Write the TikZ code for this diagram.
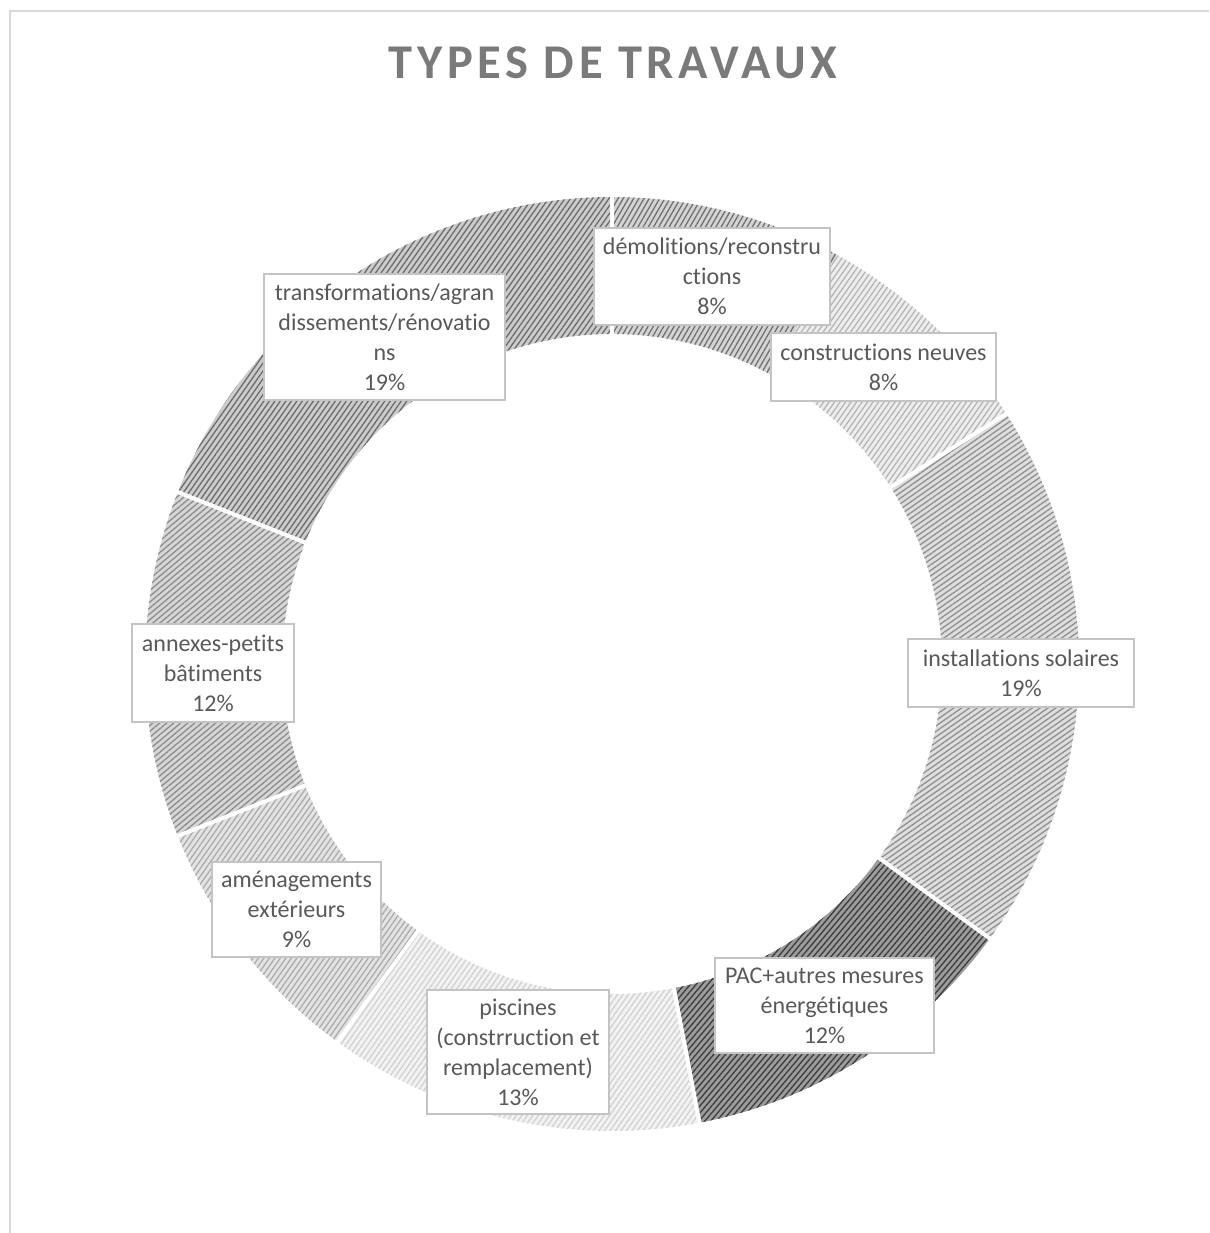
\documentclass[tikz,border=0pt]{standalone}
\usepackage{fontspec}
\setmainfont[Ligatures=NoCommon]{Carlito}
\newfontfamily\titlefont[LetterSpace=9.5,Ligatures=NoCommon]{Carlito}
\usetikzlibrary{patterns.meta}

\definecolor{txtgray}{HTML}{595959}
\definecolor{ttlgray}{HTML}{7A7A7A}
\definecolor{boxgray}{HTML}{C4C4C4}
\definecolor{framegray}{HTML}{D9D9D9}
\newcommand{\lblfont}{\fontsize{24}{30}\selectfont}

\tikzset{
  seg/.style n args={3}{preaction={fill=#1}, pattern={Lines[angle=#3,distance=4.5pt,line width=1.3pt]}, pattern color=#2},
  gap/.style={white, line width=4pt},
  lbl/.style={draw=boxgray, line width=1.3pt, fill=white, text=txtgray, font=\lblfont, align=center, inner sep=0pt},
}

\begin{document}
\begin{tikzpicture}[x=1pt,y=1pt]
  \useasboundingbox (0,0) rectangle (1209,-1233);
  \draw[framegray, line width=2pt] (1209,-11) -- (10,-11) -- (10,-1233);
  \node[text=ttlgray, font=\titlefont\bfseries\fontsize{48.5}{58}\selectfont] (title) at (613,-63) {TYPES DE TRAVAUX};

  \begin{scope}[shift={(612,-664)}]
    \path[seg={black!17}{black!56}{60}] (90:467) arc[start angle=90,end angle=61.2,radius=467] -- (61.2:330) arc[start angle=61.2,end angle=90,radius=330] -- cycle;
    \path[seg={black!7}{black!29}{55}] (61.2:467) arc[start angle=61.2,end angle=32.4,radius=467] -- (32.4:330) arc[start angle=32.4,end angle=61.2,radius=330] -- cycle;
    \path[seg={black!13}{black!44}{35}] (32.4:467) arc[start angle=32.4,end angle=-36,radius=467] -- (-36:330) arc[start angle=-36,end angle=32.4,radius=330] -- cycle;
    \path[seg={black!39}{black!77}{50}] (-36:467) arc[start angle=-36,end angle=-79.2,radius=467] -- (-79.2:330) arc[start angle=-79.2,end angle=-36,radius=330] -- cycle;
    \path[seg={black!5}{black!18}{55}] (-79.2:467) arc[start angle=-79.2,end angle=-126,radius=467] -- (-126:330) arc[start angle=-126,end angle=-79.2,radius=330] -- cycle;
    \path[seg={black!11}{black!33}{55}] (-126:467) arc[start angle=-126,end angle=-158.4,radius=467] -- (-158.4:330) arc[start angle=-158.4,end angle=-126,radius=330] -- cycle;
    \path[seg={black!16}{black!45}{40}] (-158.4:467) arc[start angle=-158.4,end angle=-201.6,radius=467] -- (-201.6:330) arc[start angle=-201.6,end angle=-158.4,radius=330] -- cycle;
    \path[seg={black!20}{black!58}{55}] (-201.6:467) arc[start angle=-201.6,end angle=-270,radius=467] -- (-270:330) arc[start angle=-270,end angle=-201.6,radius=330] -- cycle;
    % white gaps between slices
    \foreach \a in {90,32.4,-36,-79.2,-126,-158.4,-201.6}
      \draw[gap] (\a:326) -- (\a:471);
  \end{scope}

  \node[lbl, minimum width=236pt, minimum height=97pt] (demol) at (712,-276.5) {démolitions/reconstru\\ctions\\8\%};
  \node[lbl, minimum width=225pt, minimum height=68pt] (neuves) at (883.5,-367) {constructions neuves\\8\%};
  \node[lbl, minimum width=226pt, minimum height=68pt] (solaires) at (1021,-673) {installations solaires\\19\%};
  \node[lbl, minimum width=219pt, minimum height=95pt] (pac) at (824.5,-1005.5) {PAC+autres mesures\\énergétiques\\12\%};
  \node[lbl, minimum width=182pt, minimum height=124pt] (piscines) at (518,-1052) {piscines\\(constrruction et\\remplacement)\\13\%};
  \node[lbl, minimum width=169pt, minimum height=95pt] (amenag) at (296.5,-909.5) {aménagements\\extérieurs\\9\%};
  \node[lbl, minimum width=162pt, minimum height=98pt] (annexes) at (213,-673) {annexes-petits\\bâtiments\\12\%};
  \node[lbl, minimum width=241pt, minimum height=126pt] (transf) at (384.5,-337) {transformations/agran\\dissements/rénovatio\\ns\\19\%};
\end{tikzpicture}
\end{document}
